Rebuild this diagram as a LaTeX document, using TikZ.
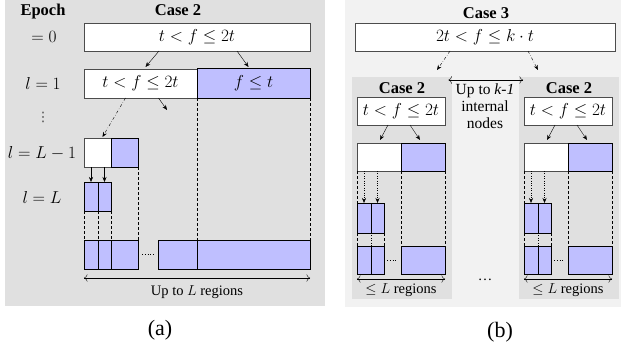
\documentclass[tikz,border=0pt]{standalone}
\usepackage{amsmath,amssymb}
\usepackage{fontspec}
\setmainfont{Liberation Serif}
\newfontfamily\symfont{DejaVu Sans}
\usetikzlibrary{arrows.meta,positioning}
\tikzset{>/.tip={Stealth[length=5pt,width=4pt]}}
\tikzset{span/.style={{Computer Modern Rightarrow[scale=1.4]}-{Computer Modern Rightarrow[scale=1.4]}}}
\colorlet{region}{blue!25}
\definecolor{panel}{gray}{0.88}
\definecolor{outer}{gray}{0.95}

\begin{document}
\begin{tikzpicture}[x=1pt,y=-1pt,font=\fontsize{14.5}{17}\selectfont,
    box/.style={draw=gray!60!black,line width=0.8pt,fill=white,inner sep=0pt,outer sep=0pt,anchor=north west,minimum height=28pt},
    reg/.style={box,draw=black,line width=1pt,fill=region},
    mth/.style={font=\fontsize{17}{20}\selectfont},
    head/.style={font=\fontsize{16.5}{19}\selectfont\bfseries},
    guide/.style={densely dashed,line width=0.6pt},
    big/.style={font=\fontsize{22}{24}\selectfont}]
        \useasboundingbox (0,0) rectangle (621,345);
        \fill[panel] (5,0) rectangle (325,306);
        \fill[outer] (345,0) rectangle (621,307);
        % (a) one Case 2 node
        \node(epoch)[head] at (43,12) {Epoch};
        \node(case2)[head] at (178,10) {Case 2};
        \node(e0)[mth] at (44,37) {$=0$};
        \node(e1)[mth] at (43,83) {$l=1$};
        \node(edots)[font=\fontsize{13}{15}\selectfont\symfont,text=gray!50!black] at (43,117) {⋮};
        \node(eL1)[mth] at (42,153) {$l=L-1$};
        \node(eL)[mth] at (42,197) {$l=L$};
        \node(top)[box,mth,minimum width=226pt] at (84,23) {$t<f\le 2t$};
        \node(l1a)[box,mth,minimum width=113pt,minimum height=29pt] at (84,69) {$t<f\le 2t$};
        \node(l1b)[reg,mth,minimum width=113pt,minimum height=29pt] at (197,69) {$f\le t$};
        \node(lLa)[box,minimum width=27pt,minimum height=29pt] at (84,138) {};
        \node(lLb)[reg,minimum width=27pt,minimum height=29pt] at (111,138) {};
        \node(La)[reg,minimum width=14pt,minimum height=29pt] at (84,182) {};
        \node(Lb)[reg,minimum width=13pt,minimum height=29pt] at (98,182) {};
        \node(r1)[reg,minimum width=14pt,minimum height=29pt] at (84,240) {};
        \node(r2)[reg,minimum width=13pt,minimum height=29pt] at (98,240) {};
        \node(r3)[reg,minimum width=27pt,minimum height=29pt] at (111,240) {};
        \node(r4)[reg,minimum width=39pt,minimum height=29pt] at (158,240) {};
        \node(r5)[reg,minimum width=113pt,minimum height=29pt] at (197,240) {};
        \coordinate(l1end) at (167,110);
        \draw[->] ([xshift=-38]top.south) -- ([xshift=5,yshift=2]l1a.north);
        \draw[->] ([xshift=40]top.south) -- ([xshift=-5,yshift=2]l1b.north);
        \draw[->,dash dot] ([xshift=-15]l1a.south) -- ([xshift=5,yshift=1]lLa.north);
        \draw[->] ([xshift=18]l1a.south) -- (l1end);
        \draw[->] (La.north |- lLa.south) -- (La.north);
        \draw[->] (Lb.north |- lLa.south) -- (Lb.north);
        \draw[guide] (l1b.south west) -- (r5.north west);
        \draw[guide] (l1b.south east) -- (r5.north east);
        \draw[guide] (lLb.south east) -- (r3.north east);
        \draw[guide] (La.south west) -- (r1.north west);
        \draw[guide] (La.south east) -- (r2.north west);
        \draw[guide] (Lb.south east) -- (r3.north west);
        \draw[dotted,line width=0.8pt,shorten <=4pt,shorten >=4pt] (r3.east) -- (r4.west);
        \draw[span] ([yshift=-9]r1.south west) -- ([yshift=-9]r5.south east);
        \node(upto) at (197,292) {Up to $L$ regions};
        \node(capa)[big] at (160,330) {(a)};
        % (b) one Case 3 node
        \node(case3)[head] at (486,13) {Case 3};
        \node(c3)[box,mth,minimum width=260pt] at (355,23) {$2t<f\le k\cdot t$};
        \foreach \s/\n in {0/a,167/b}{
          \node(pan\n)[fill=panel,anchor=north west,inner sep=0pt,minimum width=100pt,minimum height=222pt] at (352+\s,77) {};
          \node(c2\n)[head] at (402+\s,88) {Case 2};
          \node(b\n)[box,mth,minimum width=88pt] at (357+\s,97) {$t<f\le 2t$};
          \node(w\n)[box,minimum width=44pt] at (357+\s,143) {};
          \node(u\n)[reg,minimum width=44pt] at (401+\s,143) {};
          \node(sa\n)[reg,minimum width=14pt,minimum height=30pt] at (357+\s,203) {};
          \node(sb\n)[reg,minimum width=13pt,minimum height=30pt] at (371+\s,203) {};
          \node(ra\n)[reg,minimum width=14pt] at (357+\s,246) {};
          \node(rb\n)[reg,minimum width=13pt] at (371+\s,246) {};
          \node(rc\n)[reg,minimum width=44pt] at (401+\s,246) {};
          \draw[->] ([xshift=-13]b\n.south) -- ([xshift=1,yshift=3]w\n.north);
          \draw[->] ([xshift=9]b\n.south) -- ([xshift=-3,yshift=3]u\n.north);
          \draw[->,dotted] (sa\n.north |- w\n.south) -- (sa\n.north);
          \draw[->,dotted] (sb\n.north |- w\n.south) -- (sb\n.north);
          \draw[guide] (w\n.south west) -- (sa\n.north west);
          \draw[guide] (u\n.south west) -- (rc\n.north west);
          \draw[guide] (u\n.south east) -- (rc\n.north east);
          \draw[guide] (sa\n.south west) -- (ra\n.north west);
          \draw[dotted] (sa\n.south east) -- (rb\n.north west);
          \draw[guide] (sb\n.south east) -- (rb\n.north east);
          \draw[dotted,line width=0.8pt,shorten <=3pt,shorten >=3pt] (rb\n.east) -- (rc\n.west);
          \draw[span] ([yshift=-5]ra\n.south west) -- ([yshift=-5]rc\n.south east);
          \node(le\n) at (401+\s,290) {$\le L$ regions};
        }
        \coordinate(c3l) at (437,70);
        \coordinate(c3r) at (538,70);
        \draw[->,dash dot] ([xshift=-35]c3.south) -- (c3l);
        \draw[->,dash dot] ([xshift=43]c3.south) -- (c3r);
        \draw[span,shorten <=-4pt,shorten >=-4pt] ([yshift=-3]pana.north east) -- ([yshift=-3]panb.north west);
        \node(inner)[align=center,font=\fontsize{15.5}{17}\selectfont] at (485,106) {Up to \textit{k-1}\\internal\\nodes};
        \node(more) at (485,280) {\dots};
        \node(capb)[big] at (500,332) {(b)};
      \end{tikzpicture}
\end{document}
